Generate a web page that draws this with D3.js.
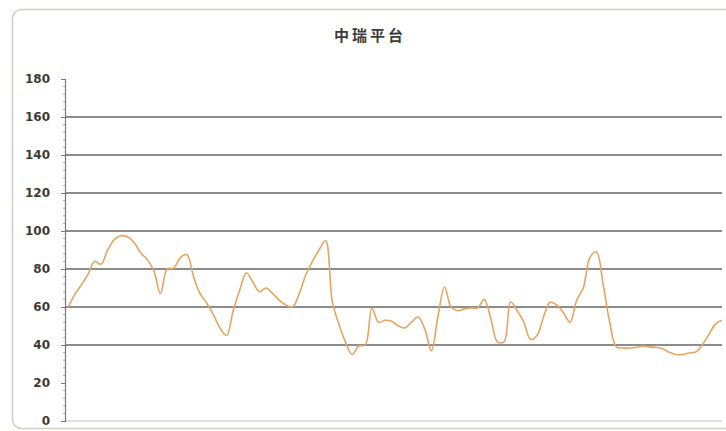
<!DOCTYPE html>
<html>
<head>
<meta charset="utf-8">
<script src="https://cdn.jsdelivr.net/npm/d3@7"></script>
<style>
  html, body { margin: 0; padding: 0; background: #fff; }
  svg { display: block; }
</style>
</head>
<body>
<svg id="chart" width="726" height="431"></svg>
<script>
const title = "中瑞平台";
const yTicks = [0, 20, 40, 60, 80, 100, 120, 140, 160, 180];
const gridValues = [40, 60, 80, 100, 120, 140, 160];
const values = [
  59.5, 66.5, 71.5, 77, 84, 82.5, 90, 95.5, 97.5, 97,
  94, 88.5, 85, 79, 67, 80, 80.5, 86, 87.5, 76,
  67, 62, 56, 49, 45, 58, 69, 78, 73, 68,
  70, 67, 63.5, 61, 60, 67, 77, 84, 90, 95,
  63, 51, 41.5, 35, 39.5, 40, 59.5, 52, 53, 52.5,
  50, 49, 52, 54.7, 48.5, 37, 55, 70.5, 60, 58,
  59, 59.5, 59.5, 64, 54, 41.6, 41.6, 62.6, 58, 52,
  43, 45, 55, 62.6, 61, 57, 52, 63.5, 70, 86,
  89, 72, 52, 39, 38.4, 38.4, 38.7, 39.5, 39, 38.7,
  38, 36.2, 35, 35, 35.8, 36.3, 40, 45.5, 51, 53
];
const categories = values.map((_, i) => i + 1);

const svg = d3.select("#chart");

// outer rounded frame
svg.append("rect")
  .attr("x", 12.5).attr("y", 9.5)
  .attr("width", 740).attr("height", 419)
  .attr("rx", 9).attr("ry", 9)
  .attr("fill", "#fff")
  .attr("stroke", "#cfcfc2").attr("stroke-width", 1.5);

const x = d3.scalePoint().domain(categories).range([68, 722]);
const y = d3.scaleLinear().domain([0, 180]).range([421, 79]);

// gridlines
svg.append("g").selectAll("line").data(gridValues).join("line")
  .attr("x1", 65).attr("x2", 722)
  .attr("y1", d => y(d)).attr("y2", d => y(d))
  .attr("stroke", "#8c8c8c").attr("stroke-width", 1.8);

// bottom axis line
svg.append("line")
  .attr("x1", 65).attr("x2", 722)
  .attr("y1", y(0)).attr("y2", y(0))
  .attr("stroke", "#c4c4c4").attr("stroke-width", 1);

// y axis
const yAxis = d3.axisLeft(y).tickValues(yTicks).tickSize(4).tickPadding(11);
const gy = svg.append("g").attr("transform", "translate(65,0)").call(yAxis);
gy.select(".domain").attr("stroke", "#777").attr("stroke-width", 1.2);
gy.selectAll(".tick line").attr("stroke", "#777");
gy.selectAll(".tick text")
  .attr("font-family", "DejaVu Sans, sans-serif")
  .attr("font-size", 12).attr("font-weight", "bold")
  .attr("fill", "#3a3a3a");

// minor ticks
const minor = d3.range(0, 181, 4).filter(v => v % 20 !== 0);
svg.append("g").selectAll("line").data(minor).join("line")
  .attr("x1", 63).attr("x2", 65)
  .attr("y1", d => y(d)).attr("y2", d => y(d))
  .attr("stroke", "#aaa").attr("stroke-width", 1);

// line
const line = d3.line()
  .x((d, i) => x(categories[i]))
  .y(d => y(d))
  .curve(d3.curveCatmullRom.alpha(0.5));
svg.append("path")
  .datum(values)
  .attr("d", line)
  .attr("fill", "none")
  .attr("stroke", "#e6a462")
  .attr("stroke-width", 1.6)
  .attr("stroke-linejoin", "round");

// title
svg.append("text")
  .attr("x", 370).attr("y", 41)
  .attr("text-anchor", "middle")
  .attr("font-family", "Noto Sans CJK SC, sans-serif")
  .attr("font-size", 15).attr("font-weight", "bold")
  .attr("letter-spacing", 3)
  .attr("fill", "#3c3c3c")
  .text(title);
</script>
</body>
</html>
